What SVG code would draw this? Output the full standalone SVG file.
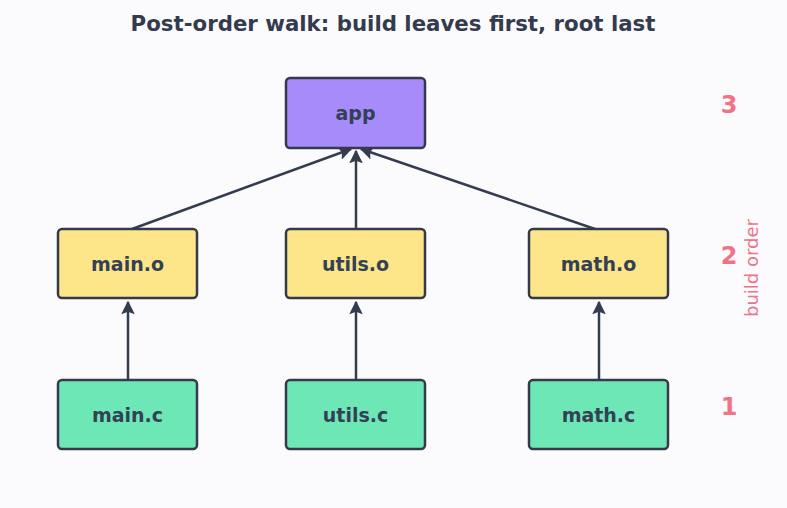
<svg xmlns="http://www.w3.org/2000/svg" width="787" height="508" viewBox="0 0 787 508">
<style>
.box{stroke:#343a4a;stroke-width:2.5}
.lbl{font-family:"DejaVu Sans",sans-serif;font-weight:bold;font-size:19px;fill:#334155;text-anchor:middle;dominant-baseline:central}
.num{font-family:"DejaVu Sans",sans-serif;font-weight:bold;font-size:24px;fill:#f07385;text-anchor:middle;dominant-baseline:central}
.edge{stroke:#343d4f;stroke-width:2.5;fill:none;marker-end:url(#ah)}
</style>
<defs>
<marker id="ah" viewBox="0 0 10 10" refX="9" refY="5" markerWidth="5.5" markerHeight="5.5" orient="auto" markerUnits="strokeWidth">
<path d="M0,0 L10,5 L0,10 L2,5 z" fill="#343d4f"/>
</marker>
</defs>
<rect width="787" height="508" fill="#fbfbfe"/>
<text x="393" y="23" font-family="DejaVu Sans,sans-serif" font-weight="bold" font-size="21.3" fill="#343b4e" text-anchor="middle" dominant-baseline="central">Post-order walk: build leaves first, root last</text>
<g id="connectors">
<line class="edge" x1="128" y1="380" x2="128" y2="302"/>
<line class="edge" x1="356" y1="380" x2="356" y2="302"/>
<line class="edge" x1="599" y1="380" x2="599" y2="302"/>
<line class="edge" x1="132" y1="229" x2="351" y2="149"/>
<line class="edge" x1="356" y1="229" x2="356" y2="151"/>
<line class="edge" x1="595" y1="229" x2="361" y2="149"/>
</g>
<g id="app"><rect class="box" x="286" y="78" width="139" height="70" rx="4" fill="#a78bfa"/><text class="lbl" x="355.5" y="113">app</text></g>
<g id="main_o"><rect class="box" x="58" y="229" width="139" height="69" rx="4" fill="#fde68a"/><text class="lbl" x="127.5" y="264">main.o</text></g>
<g id="utils_o"><rect class="box" x="286" y="229" width="139" height="69" rx="4" fill="#fde68a"/><text class="lbl" x="355.5" y="264">utils.o</text></g>
<g id="math_o"><rect class="box" x="529" y="229" width="139" height="69" rx="4" fill="#fde68a"/><text class="lbl" x="598.5" y="264">math.o</text></g>
<g id="main_c"><rect class="box" x="58" y="380" width="139" height="69" rx="4" fill="#6ee7b7"/><text class="lbl" x="127.5" y="415">main.c</text></g>
<g id="utils_c"><rect class="box" x="286" y="380" width="139" height="69" rx="4" fill="#6ee7b7"/><text class="lbl" x="355.5" y="415">utils.c</text></g>
<g id="math_c"><rect class="box" x="529" y="380" width="139" height="69" rx="4" fill="#6ee7b7"/><text class="lbl" x="598.5" y="415">math.c</text></g>
<g id="order">
<text class="num" x="729" y="105">3</text>
<text class="num" x="729" y="256">2</text>
<text class="num" x="729" y="407">1</text>
<text x="751" y="268" transform="rotate(-90 751 268)" font-family="DejaVu Sans,sans-serif" font-size="18" fill="#f07385" text-anchor="middle" dominant-baseline="central">build order</text>
</g>
</svg>
